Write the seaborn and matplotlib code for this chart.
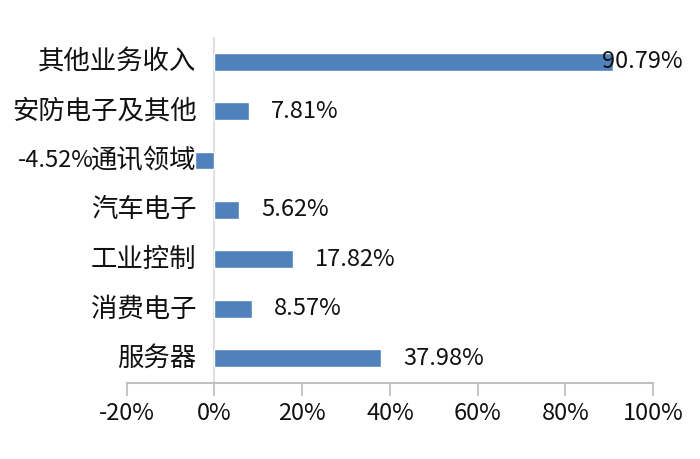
import matplotlib
matplotlib.use("Agg")
import matplotlib.pyplot as plt
import seaborn as sns
import pandas as pd

# data
categories = ["其他业务收入", "安防电子及其他", "通讯领域", "汽车电子", "工业控制", "消费电子", "服务器"]
growth = [90.79, 7.81, -4.52, 5.62, 17.82, 8.57, 37.98]
x_ticks = [-20, 0, 20, 40, 60, 80, 100]

df = pd.DataFrame({"category": categories, "growth": growth})

sns.set_theme(style="white")
plt.rcParams["font.family"] = ["Noto Sans CJK SC", "DejaVu Sans"]

fig = plt.figure(figsize=(7, 4.59), dpi=100)
ax = fig.add_axes([0.181, 0.1656, 0.752, 0.754])

sns.barplot(data=df, x="growth", y="category", color="#4f81bd", saturation=1,
            width=0.36, ax=ax)

ax.set_xlim(-20, 100)
ax.set_xticks(x_ticks)
ax.set_xticklabels([f"{t}%" for t in x_ticks], fontsize=17, color="#111111")
ax.tick_params(axis="x", bottom=True, direction="out", length=9, width=1.3,
               color="#bfbfbf", pad=5)
ax.set_xlabel("")
ax.set_ylabel("")

# category names sit next to the zero line, not at the left spine
ax.set_yticks([])
for i, name in enumerate(categories):
    ax.annotate(name, xy=(0, i), xytext=(-13, 0), textcoords="offset points",
                ha="right", va="center", fontsize=19, color="#111111")

# value labels
for i, v in enumerate(growth):
    if v >= 0:
        ax.text(min(v + 5, 88.4), i, f"{v:.2f}%", ha="left", va="center",
                fontsize=17, color="#111111")
    else:
        ax.text(v - 23, i, f"{v:.2f}%", ha="right", va="center",
                fontsize=17, color="#111111", clip_on=False)

for side in ["top", "right", "left"]:
    ax.spines[side].set_visible(False)
ax.spines["bottom"].set_color("#bfbfbf")
ax.spines["bottom"].set_linewidth(1.5)
ax.axvline(0, color="#d9d9d9", lw=1.2, zorder=0)

fig.savefig("out.png", dpi=100, facecolor="white")
